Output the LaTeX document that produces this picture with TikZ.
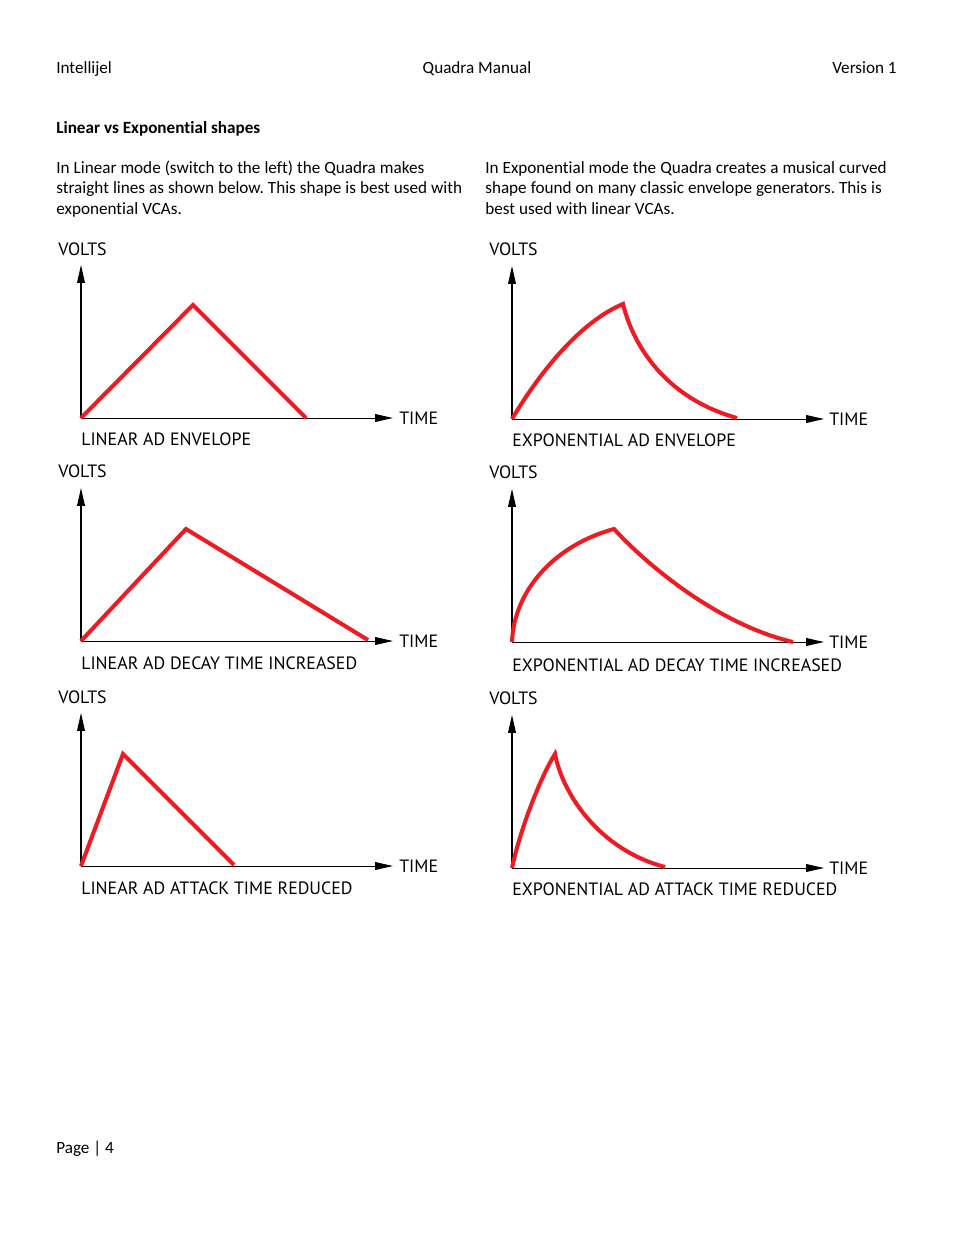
\documentclass[tikz,border=0pt]{standalone}
\usepackage{fontspec}
\setmainfont{Carlito}[Ligatures=NoCommon]
\newfontfamily\plotfont{PT Sans}
\usetikzlibrary{arrows.meta}
\definecolor{EnvRed}{HTML}{ED1C24}

\begin{document}
\frenchspacing
\begin{tikzpicture}[x=0.6415pt,y=-0.6415pt,
    page/.style={inner sep=0pt,anchor=base west,font=\fontsize{11}{13.4}\selectfont},
    para/.style={page,text width=280pt,align=left},
    axis/.style={line width=0.65pt,-{Triangle[length=11.5pt,width=5pt]}},
    env/.style={draw=EnvRed,line width=2.6pt},
    plotlbl/.style={inner sep=0pt,anchor=west,font=\plotfont\fontsize{11.45}{13}\selectfont}]
  \fill[white] (0,0) rectangle (954,1235);
  \useasboundingbox (0,0) rectangle (954,1235);

  % page text
  \node[page] (brand) at (56,73) {Intellijel};
  \node[page,anchor=base] (title) at (477,73) {Quadra Manual};
  \node[page,anchor=base east] (version) at (897,73) {Version 1};
  \node[page,font=\fontsize{11}{13.4}\selectfont\bfseries] (head) at (56,133) {Linear vs Exponential shapes};
  \node[para] (linpar) at (56,173) {\spaceskip=0.234em\relax
    In Linear mode (switch to the left) the Quadra makes\\
    straight lines as shown below. This shape is best used with\\
    exponential VCAs.};
  \node[para] (exppar) at (485,173) {\spaceskip=0.234em\relax
    In Exponential mode the Quadra creates a musical curved\\
    shape found on many classic envelope generators. This is\\
    best used with linear VCAs.};
  \node[page] (pagenum) at (56,1153) {Page | 4};

  % linear envelope
  \begin{scope}[shift={(81,418)}]
    \coordinate (o1) at (0,0);
    \coordinate (y1) at (0,-153);
    \coordinate (x1) at (312,0);
    \node[plotlbl] (v1) at (-23,-169) {VOLTS};
    \node[plotlbl] (t1) at (318,0) {TIME};
    \node[plotlbl] (c1) at (0,21) {LINEAR AD ENVELOPE};
    \draw[axis] (o1) -- (y1);
    \draw[axis] (o1) -- (x1);
    \draw[env] (o1) -- (112,-113) -- (225,0);
  \end{scope}

  % linear, longer decay
  \begin{scope}[shift={(81,641)}]
    \coordinate (o2) at (0,0);
    \coordinate (y2) at (0,-153);
    \coordinate (x2) at (312,0);
    \node[plotlbl] (v2) at (-23,-170) {VOLTS};
    \node[plotlbl] (t2) at (318,0) {TIME};
    \node[plotlbl] (c2) at (0,22) {LINEAR AD DECAY TIME INCREASED};
    \draw[axis] (o2) -- (y2);
    \draw[axis] (o2) -- (x2);
    \draw[env] (o2) -- (105,-112) -- (287,-1);
  \end{scope}

  % linear, shorter attack
  \begin{scope}[shift={(81,866)}]
    \coordinate (o3) at (0,0);
    \coordinate (y3) at (0,-153);
    \coordinate (x3) at (312,0);
    \node[plotlbl] (v3) at (-23,-169) {VOLTS};
    \node[plotlbl] (t3) at (318,0) {TIME};
    \node[plotlbl] (c3) at (0,22) {LINEAR AD ATTACK TIME REDUCED};
    \draw[axis] (o3) -- (y3);
    \draw[axis] (o3) -- (x3);
    \draw[env] (o3) -- (42,-112) -- (153,-1);
  \end{scope}

  % exponential envelope
  \begin{scope}[shift={(512,419)}]
    \coordinate (o4) at (0,0);
    \coordinate (y4) at (0,-153);
    \coordinate (x4) at (312,0);
    \node[plotlbl] (v4) at (-23,-170) {VOLTS};
    \node[plotlbl] (t4) at (317,0) {TIME};
    \node[plotlbl] (c4) at (0,21) {EXPONENTIAL AD ENVELOPE};
    \draw[axis] (o4) -- (y4);
    \draw[axis] (o4) -- (x4);
    \draw[env] (o4) .. controls (28,-47) and (68,-97) .. (111,-115)
      .. controls (121,-74) and (153,-21) .. (225,-1);
  \end{scope}

  % exponential, longer decay
  \begin{scope}[shift={(512,642)}]
    \coordinate (o5) at (0,0);
    \coordinate (y5) at (0,-153);
    \coordinate (x5) at (312,0);
    \node[plotlbl] (v5) at (-23,-170) {VOLTS};
    \node[plotlbl] (t5) at (317,0) {TIME};
    \node[plotlbl] (c5) at (0,23) {EXPONENTIAL AD DECAY TIME INCREASED};
    \draw[axis] (o5) -- (y5);
    \draw[axis] (o5) -- (x5);
    \draw[env] (o5) .. controls (2,-52) and (43,-97) .. (102,-113)
      .. controls (138,-74) and (208,-17) .. (281,0);
  \end{scope}

  % exponential, shorter attack
  \begin{scope}[shift={(512,868)}]
    \coordinate (o6) at (0,0);
    \coordinate (y6) at (0,-153);
    \coordinate (x6) at (312,0);
    \node[plotlbl] (v6) at (-23,-170) {VOLTS};
    \node[plotlbl] (t6) at (317,0) {TIME};
    \node[plotlbl] (c6) at (0,21) {EXPONENTIAL AD ATTACK TIME REDUCED};
    \draw[axis] (o6) -- (y6);
    \draw[axis] (o6) -- (x6);
    \draw[env] (o6) .. controls (8,-38) and (28,-90) .. (43,-114)
      .. controls (51,-73) and (88,-18) .. (153,-1);
  \end{scope}
\end{tikzpicture}
\end{document}
